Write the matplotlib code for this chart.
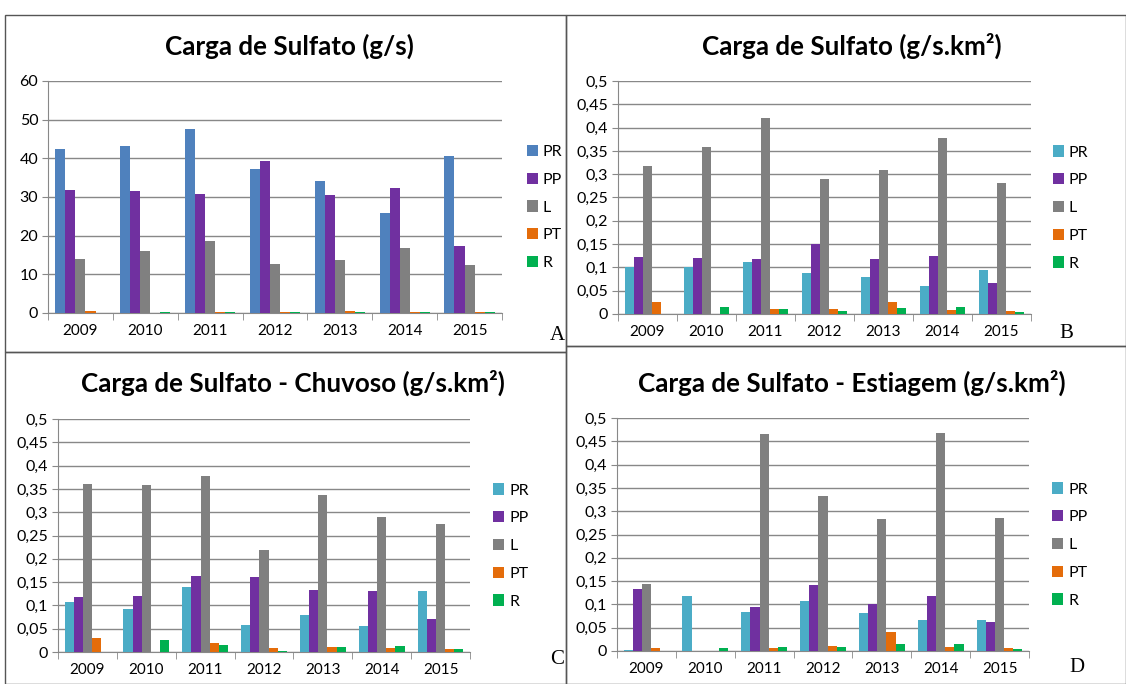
import matplotlib
matplotlib.use("Agg")
import matplotlib.pyplot as plt
import numpy as np
from matplotlib.patches import Rectangle
from matplotlib.ticker import FuncFormatter

W, H = 1126, 684

anos = ["2009", "2010", "2011", "2012", "2013", "2014", "2015"]
series = ["PR", "PP", "L", "PT", "R"]

# A - Carga de Sulfato (g/s)
a_pr = [42.3, 43.1, 47.7, 37.2, 34.1, 25.9, 40.6]
a_pp = [31.9, 31.6, 30.7, 39.2, 30.4, 32.4, 17.4]
a_l = [14.0, 16.0, 18.6, 12.8, 13.7, 16.7, 12.3]
a_pt = [0.6, 0.0, 0.3, 0.3, 0.5, 0.3, 0.3]
a_r = [0.0, 0.3, 0.3, 0.3, 0.3, 0.3, 0.3]

# B - Carga de Sulfato (g/s.km2)
b_pr = [0.100, 0.101, 0.111, 0.087, 0.079, 0.061, 0.095]
b_pp = [0.123, 0.121, 0.117, 0.150, 0.117, 0.125, 0.067]
b_l = [0.317, 0.359, 0.421, 0.289, 0.309, 0.377, 0.281]
b_pt = [0.025, 0.0, 0.010, 0.010, 0.025, 0.008, 0.006]
b_r = [0.0, 0.016, 0.010, 0.006, 0.012, 0.014, 0.005]

# C - Chuvoso
c_pr = [0.107, 0.093, 0.139, 0.057, 0.079, 0.055, 0.131]
c_pp = [0.117, 0.121, 0.164, 0.161, 0.133, 0.131, 0.071]
c_l = [0.361, 0.359, 0.377, 0.219, 0.337, 0.289, 0.275]
c_pt = [0.030, 0.0, 0.020, 0.008, 0.010, 0.008, 0.006]
c_r = [0.0, 0.026, 0.014, 0.002, 0.010, 0.012, 0.006]

# D - Estiagem
d_pr = [0.002, 0.117, 0.083, 0.107, 0.081, 0.067, 0.067]
d_pp = [0.133, 0.0, 0.095, 0.141, 0.101, 0.117, 0.063]
d_l = [0.143, 0.0, 0.465, 0.333, 0.283, 0.467, 0.285]
d_pt = [0.006, 0.0, 0.006, 0.010, 0.040, 0.008, 0.006]
d_r = [0.0, 0.006, 0.008, 0.008, 0.016, 0.014, 0.004]

cores_a = ["#4F81BD", "#7030A0", "#808080", "#E46C0A", "#00B050"]
cores_b = ["#4BACC6", "#7030A0", "#808080", "#E46C0A", "#00B050"]

plt.rcParams["font.family"] = ["Lato", "DejaVu Sans"]

fig = plt.figure(figsize=(W / 100, H / 100), dpi=100)


def caixa(x0, y0, x1, y1):
    # converte pixels (topo-esquerda) em coordenadas da figura
    return [x0 / W, 1 - y1 / H, (x1 - x0) / W, (y1 - y0) / H]


def virgula(v, pos):
    s = ("%.2f" % v).rstrip("0").rstrip(".")
    return s.replace(".", ",")


def painel(pos, dados, cores, ymax, passo, titulo, tpos, letra, lpos, leg_x):
    ax = fig.add_axes(caixa(*pos))
    x = np.arange(len(anos))
    w = 0.155
    for i, (vals, cor) in enumerate(zip(dados, cores)):
        ax.bar(x + (i - 2) * w, vals, w, color=cor, label=series[i], zorder=3)
    ax.set_xlim(-0.5, len(anos) - 0.5)
    ax.set_ylim(0, ymax)
    ax.set_yticks(np.arange(0, ymax + passo / 2, passo))
    ax.yaxis.set_major_formatter(FuncFormatter(virgula))
    ax.set_xticks(x)
    ax.set_xticklabels(anos)
    ax.set_xticks(np.arange(-0.5, len(anos), 1), minor=True)
    ax.tick_params(axis="x", which="major", length=0, labelsize=11, pad=8)
    ax.tick_params(axis="x", which="minor", length=5, color="#888888")
    ax.tick_params(axis="y", length=4, color="#888888", labelsize=11.5, pad=3)
    ax.grid(axis="y", color="#888888", linewidth=1, zorder=0)
    for s in ["top", "right"]:
        ax.spines[s].set_visible(False)
    ax.spines["left"].set_color("#888888")
    ax.spines["bottom"].set_color("#888888")
    ax.set_facecolor("none")
    ax.legend(loc="center left", bbox_to_anchor=(leg_x, 0.455), frameon=False,
              handlelength=0.7, handleheight=0.7, handletextpad=0.3,
              labelspacing=0.85, fontsize=11.5, borderaxespad=0, borderpad=0)
    fig.text(tpos[0] / W, 1 - tpos[1] / H, titulo, ha="center", va="center",
             fontsize=18.7, fontweight="bold")
    fig.text(lpos[0] / W, 1 - lpos[1] / H, letra, ha="center", va="center",
             fontsize=15, family=["Liberation Serif", "DejaVu Serif"])
    return ax


painel((48, 81, 502, 313), [a_pr, a_pp, a_l, a_pt, a_r], cores_a, 60, 10,
       "Carga de Sulfato (g/s)", (289, 46), "A", (557, 336), 1.055)
painel((618, 81, 1031, 314), [b_pr, b_pp, b_l, b_pt, b_r], cores_b, 0.5, 0.05,
       "Carga de Sulfato (g/s.km²)", (852, 46), "B", (1066, 334), 1.053)
painel((58, 419, 470, 652), [c_pr, c_pp, c_l, c_pt, c_r], cores_b, 0.5, 0.05,
       "Carga de Sulfato - Chuvoso (g/s.km²)", (293, 383), "C", (557, 660), 1.056)
painel((617, 418, 1029, 651), [d_pr, d_pp, d_l, d_pt, d_r], cores_b, 0.5, 0.05,
       "Carga de Sulfato - Estiagem (g/s.km²)", (852, 383), "D", (1077, 668), 1.056)

# molduras dos paineis
for (x0, y0, x1, y1) in [(5, 15, 566, 352), (566, 15, 1126, 346),
                         (5, 352, 566, 684), (566, 346, 1126, 684)]:
    fig.patches.append(Rectangle((x0 / W, 1 - y1 / H), (x1 - x0) / W, (y1 - y0) / H,
                                 transform=fig.transFigure, fill=False,
                                 edgecolor="#555555", linewidth=1))

fig.savefig("out.png", dpi=100)
